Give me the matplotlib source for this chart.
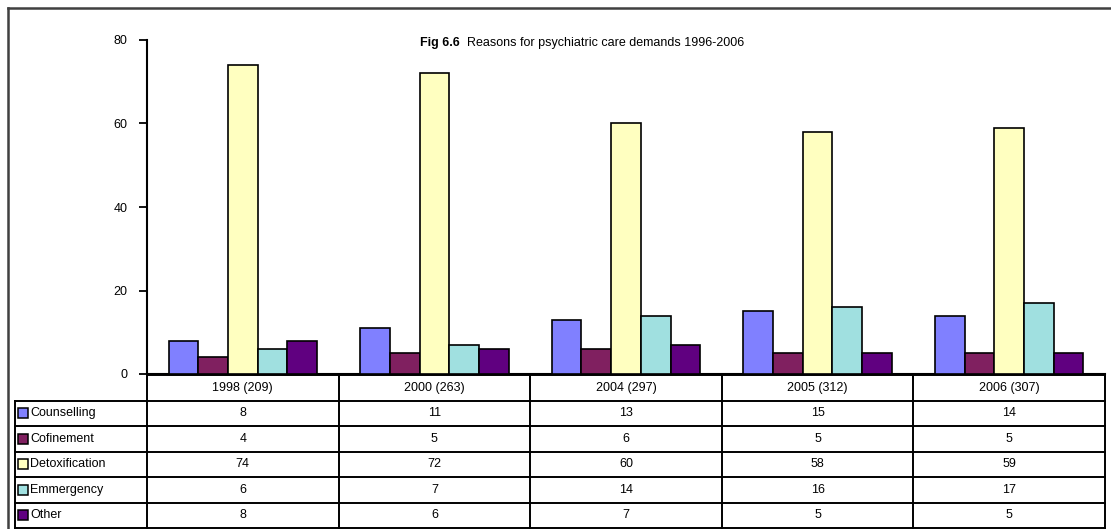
import numpy as np
import matplotlib.pyplot as plt
from matplotlib.patches import Rectangle

plt.rcParams['font.family'] = ['Liberation Sans', 'DejaVu Sans']

# data
years = ['1998 (209)', '2000 (263)', '2004 (297)', '2005 (312)', '2006 (307)']
reasons = ['Counselling', 'Cofinement', 'Detoxification', 'Emmergency', 'Other']
counselling = [8, 11, 13, 15, 14]
cofinement = [4, 5, 6, 5, 5]
detox = [74, 72, 60, 58, 59]
emergency = [6, 7, 14, 16, 17]
other = [8, 6, 7, 5, 5]
series = [counselling, cofinement, detox, emergency, other]
colors = ['#8080FF', '#802060', '#FFFFC0', '#A0E0E0', '#600080']

W, H = 1111, 529
fig = plt.figure(figsize=(W / 100, H / 100), dpi=100)
fs = 9

# plot area in pixel coords
x0, x1, ytop, ybot = 147, 1105, 40, 374
ax = fig.add_axes([x0 / W, 1 - ybot / H, (x1 - x0) / W, (ybot - ytop) / H])

n = len(years)
pos = np.arange(n) + 0.5
bw = 0.155
for i, (vals, c) in enumerate(zip(series, colors)):
    ax.bar(pos + (i - 2) * bw, vals, bw, color=c, edgecolor='black', linewidth=1.2, zorder=3)

ax.set_xlim(0, n)
ax.set_ylim(0, 80)
ax.set_yticks([0, 20, 40, 60, 80])
ax.set_xticks(np.arange(n + 1))
ax.set_xticklabels([])
ax.tick_params(axis='y', direction='out', length=6, width=1.3, labelsize=fs, pad=8)
ax.tick_params(axis='x', direction='out', length=4, width=1.3)
for s in ['top', 'right']:
    ax.spines[s].set_visible(False)
for s in ['left', 'bottom']:
    ax.spines[s].set_linewidth(1.5)

# overlay in pixel coords for frame, title and data table
ov = fig.add_axes([0, 0, 1, 1], zorder=5)
ov.set_xlim(0, W)
ov.set_ylim(H, 0)
ov.axis('off')
ov.patch.set_alpha(0)

# outer chart frame
ov.plot([8, 8], [8, H], color='#404040', lw=1.8)
ov.plot([8, W], [8, 8], color='#404040', lw=1.8)

# title
t1 = ov.text(420, 43, 'Fig 6.6', fontsize=fs, fontweight='bold', ha='left', va='center')
ov.annotate('Reasons for psychiatric care demands 1996-2006', xy=(1, 0.5), xycoords=t1,
            xytext=(5, 0), textcoords='offset points', fontsize=fs, ha='left', va='center')

# data table
row_h = 25.5
ttop = 375
lab_x = 15
col_edges = x0 + np.arange(n + 1) * (x1 - x0) / n
col_mid = (col_edges[:-1] + col_edges[1:]) / 2
lw = 1.4

ov.plot([x0, x1], [ttop, ttop], color='black', lw=lw)
for k in range(1, len(reasons) + 2):
    yk = ttop + k * row_h
    ov.plot([lab_x, x1], [yk, yk], color='black', lw=lw)
for xe in col_edges:
    ov.plot([xe, xe], [ttop, ttop + (len(reasons) + 1) * row_h], color='black', lw=lw)
ov.plot([lab_x, lab_x], [ttop + row_h, ttop + (len(reasons) + 1) * row_h], color='black', lw=lw)

for j, yr in enumerate(years):
    ov.text(col_mid[j], ttop + row_h / 2, yr, fontsize=fs, ha='center', va='center')

for i, (name, vals, c) in enumerate(zip(reasons, series, colors)):
    yc = ttop + (i + 1.5) * row_h
    ov.add_patch(Rectangle((18, yc - 5), 10, 10, facecolor=c, edgecolor='black', lw=1.1))
    ov.text(30, yc, name, fontsize=fs, ha='left', va='center')
    for j, v in enumerate(vals):
        ov.text(col_mid[j], yc, str(v), fontsize=fs, ha='center', va='center')

fig.savefig('out.png', dpi=100)
